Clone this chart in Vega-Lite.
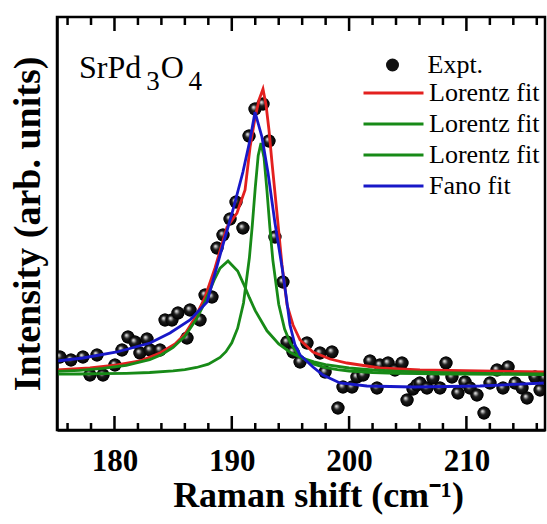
{
  "$schema": "https://vega.github.io/schema/vega-lite/v6.json",
  "width": 488,
  "height": 413,
  "autosize": {"type": "none"},
  "padding": {"left": 57, "top": 17, "right": 2, "bottom": 94},
  "background": "white",
  "config": {
    "font": "Liberation Serif",
    "view": {"stroke": null},
    "axis": {"domainColor": "black", "domainWidth": 2.5, "grid": false}
  },
  "datasets": {
    "single": [{}],
    "majorTicks": [{"position": 180}, {"position": 190}, {"position": 200}, {"position": 210}],
    "minorTicks": [
      {"position": 176}, {"position": 178}, {"position": 182}, {"position": 184}, {"position": 186},
      {"position": 188}, {"position": 192}, {"position": 194}, {"position": 196}, {"position": 198},
      {"position": 202}, {"position": 204}, {"position": 206}, {"position": 208}, {"position": 212},
      {"position": 214}, {"position": 216}
    ],
    "expt": [
      {"shift": 175.35, "intensity": 73}, {"shift": 176.29, "intensity": 70}, {"shift": 177.31, "intensity": 73},
      {"shift": 178.51, "intensity": 75}, {"shift": 177.91, "intensity": 55}, {"shift": 179.02, "intensity": 55},
      {"shift": 180.04, "intensity": 65}, {"shift": 180.64, "intensity": 80}, {"shift": 181.15, "intensity": 93},
      {"shift": 181.75, "intensity": 88}, {"shift": 182.77, "intensity": 91}, {"shift": 182.17, "intensity": 77},
      {"shift": 183.03, "intensity": 80}, {"shift": 183.88, "intensity": 80}, {"shift": 184.31, "intensity": 110},
      {"shift": 184.90, "intensity": 110}, {"shift": 185.41, "intensity": 117}, {"shift": 186.44, "intensity": 120},
      {"shift": 187.29, "intensity": 110}, {"shift": 186.18, "intensity": 92}, {"shift": 187.72, "intensity": 135},
      {"shift": 188.31, "intensity": 133}, {"shift": 188.74, "intensity": 182}, {"shift": 189.25, "intensity": 195},
      {"shift": 189.85, "intensity": 211}, {"shift": 190.36, "intensity": 228}, {"shift": 190.95, "intensity": 202},
      {"shift": 191.47, "intensity": 294}, {"shift": 191.98, "intensity": 321}, {"shift": 192.66, "intensity": 326},
      {"shift": 193.17, "intensity": 289}, {"shift": 193.68, "intensity": 193}, {"shift": 194.36, "intensity": 148},
      {"shift": 194.71, "intensity": 88}, {"shift": 195.22, "intensity": 78}, {"shift": 195.82, "intensity": 68},
      {"shift": 196.41, "intensity": 87}, {"shift": 197.52, "intensity": 77}, {"shift": 198.54, "intensity": 78},
      {"shift": 197.95, "intensity": 58}, {"shift": 199.05, "intensity": 22}, {"shift": 199.48, "intensity": 43},
      {"shift": 200.25, "intensity": 43}, {"shift": 200.67, "intensity": 53}, {"shift": 201.19, "intensity": 55},
      {"shift": 201.78, "intensity": 69}, {"shift": 202.38, "intensity": 42}, {"shift": 202.63, "intensity": 65},
      {"shift": 203.32, "intensity": 67}, {"shift": 203.91, "intensity": 60}, {"shift": 204.51, "intensity": 67},
      {"shift": 204.94, "intensity": 30}, {"shift": 205.45, "intensity": 41}, {"shift": 205.79, "intensity": 45},
      {"shift": 206.04, "intensity": 47}, {"shift": 206.64, "intensity": 42}, {"shift": 207.15, "intensity": 52},
      {"shift": 207.75, "intensity": 42}, {"shift": 208.26, "intensity": 67}, {"shift": 208.77, "intensity": 53},
      {"shift": 209.28, "intensity": 37}, {"shift": 209.88, "intensity": 48}, {"shift": 210.31, "intensity": 42},
      {"shift": 210.90, "intensity": 35}, {"shift": 211.50, "intensity": 17}, {"shift": 212.01, "intensity": 47},
      {"shift": 212.61, "intensity": 60}, {"shift": 213.12, "intensity": 42}, {"shift": 213.55, "intensity": 63},
      {"shift": 214.15, "intensity": 47}, {"shift": 214.74, "intensity": 42}, {"shift": 215.17, "intensity": 32},
      {"shift": 215.85, "intensity": 53}, {"shift": 216.28, "intensity": 40}, {"shift": 216.70, "intensity": 52}
    ],
    "lorentz": [
      {"shift": 175.1, "intensity": 60}, {"shift": 177.91, "intensity": 62}, {"shift": 180.21, "intensity": 65},
      {"shift": 182.17, "intensity": 69}, {"shift": 183.88, "intensity": 77}, {"shift": 185.16, "intensity": 86},
      {"shift": 186.01, "intensity": 96}, {"shift": 186.86, "intensity": 112}, {"shift": 187.72, "intensity": 133},
      {"shift": 188.57, "intensity": 162}, {"shift": 189.59, "intensity": 203}, {"shift": 190.44, "intensity": 217},
      {"shift": 191.13, "intensity": 240}, {"shift": 191.56, "intensity": 283}, {"shift": 191.98, "intensity": 312},
      {"shift": 192.32, "intensity": 330}, {"shift": 192.66, "intensity": 341}, {"shift": 192.92, "intensity": 325},
      {"shift": 193.17, "intensity": 300}, {"shift": 193.43, "intensity": 267}, {"shift": 193.85, "intensity": 217},
      {"shift": 194.28, "intensity": 165}, {"shift": 194.71, "intensity": 125}, {"shift": 195.22, "intensity": 105},
      {"shift": 195.82, "intensity": 90}, {"shift": 196.92, "intensity": 78}, {"shift": 198.37, "intensity": 71},
      {"shift": 199.82, "intensity": 67}, {"shift": 202.63, "intensity": 62}, {"shift": 206.04, "intensity": 60},
      {"shift": 211.16, "intensity": 59}, {"shift": 216.7, "intensity": 58}
    ],
    "lorentzBroad": [
      {"shift": 175.1, "intensity": 58.6}, {"shift": 177, "intensity": 59.7}, {"shift": 179, "intensity": 61.6},
      {"shift": 181, "intensity": 64.7}, {"shift": 183, "intensity": 70.4}, {"shift": 184, "intensity": 75.2},
      {"shift": 185, "intensity": 82.5}, {"shift": 186, "intensity": 93.7}, {"shift": 187, "intensity": 111.2},
      {"shift": 187.5, "intensity": 122.8}, {"shift": 188, "intensity": 136.1}, {"shift": 188.5, "intensity": 150.0},
      {"shift": 189, "intensity": 161.9}, {"shift": 189.68, "intensity": 169}, {"shift": 190.5, "intensity": 159.0},
      {"shift": 191, "intensity": 146.2}, {"shift": 191.5, "intensity": 132.3}, {"shift": 192, "intensity": 119.3},
      {"shift": 193, "intensity": 99.2}, {"shift": 194, "intensity": 86.0}, {"shift": 195, "intensity": 77.5},
      {"shift": 196, "intensity": 71.9}, {"shift": 197, "intensity": 68.1}, {"shift": 198, "intensity": 65.4},
      {"shift": 200, "intensity": 62.0}, {"shift": 202, "intensity": 60.0}, {"shift": 204, "intensity": 58.8},
      {"shift": 207, "intensity": 57.6}, {"shift": 210, "intensity": 56.9}, {"shift": 213, "intensity": 56.4},
      {"shift": 216.7, "intensity": 56.1}
    ],
    "lorentzNarrow": [
      {"shift": 175.1, "intensity": 55.8}, {"shift": 177, "intensity": 56.0}, {"shift": 179, "intensity": 56.3},
      {"shift": 181, "intensity": 56.7}, {"shift": 183, "intensity": 57.5}, {"shift": 185, "intensity": 59.1},
      {"shift": 186, "intensity": 60.4}, {"shift": 187, "intensity": 62.5}, {"shift": 188, "intensity": 65.9},
      {"shift": 189, "intensity": 72.6}, {"shift": 189.5, "intensity": 78.3}, {"shift": 190, "intensity": 87.2},
      {"shift": 190.5, "intensity": 101.8}, {"shift": 191, "intensity": 127.0}, {"shift": 191.5, "intensity": 172.2},
      {"shift": 191.75, "intensity": 204.9}, {"shift": 192, "intensity": 242.1}, {"shift": 192.25, "intensity": 274.4},
      {"shift": 192.49, "intensity": 287}, {"shift": 192.75, "intensity": 272.3}, {"shift": 193, "intensity": 239.1},
      {"shift": 193.25, "intensity": 202.0}, {"shift": 193.5, "intensity": 169.9}, {"shift": 194, "intensity": 125.7},
      {"shift": 194.5, "intensity": 101.0}, {"shift": 195, "intensity": 86.8}, {"shift": 195.5, "intensity": 78.1},
      {"shift": 196, "intensity": 72.4}, {"shift": 197, "intensity": 65.9}, {"shift": 198, "intensity": 62.4},
      {"shift": 199, "intensity": 60.3}, {"shift": 200, "intensity": 59.0}, {"shift": 202, "intensity": 57.5},
      {"shift": 204, "intensity": 56.7}, {"shift": 206, "intensity": 56.3}, {"shift": 208, "intensity": 56.0},
      {"shift": 210, "intensity": 55.8}, {"shift": 213, "intensity": 55.6}, {"shift": 216.7, "intensity": 55.4}
    ],
    "fano": [
      {"shift": 175.1, "intensity": 69}, {"shift": 177.31, "intensity": 72}, {"shift": 180.21, "intensity": 78},
      {"shift": 183.03, "intensity": 87}, {"shift": 184.73, "intensity": 97}, {"shift": 186.44, "intensity": 110},
      {"shift": 187.89, "intensity": 128}, {"shift": 189.17, "intensity": 182}, {"shift": 190.10, "intensity": 220},
      {"shift": 190.95, "intensity": 258}, {"shift": 191.55, "intensity": 290}, {"shift": 191.98, "intensity": 318},
      {"shift": 192.57, "intensity": 293}, {"shift": 193.09, "intensity": 257}, {"shift": 193.68, "intensity": 207},
      {"shift": 194.28, "intensity": 163}, {"shift": 194.62, "intensity": 135}, {"shift": 194.96, "intensity": 105},
      {"shift": 195.39, "intensity": 85}, {"shift": 195.82, "intensity": 75}, {"shift": 196.92, "intensity": 63},
      {"shift": 197.77, "intensity": 55}, {"shift": 199.22, "intensity": 47}, {"shift": 201.52, "intensity": 44},
      {"shift": 205.45, "intensity": 43}, {"shift": 211.16, "intensity": 44}, {"shift": 216.7, "intensity": 47}
    ]
  },
  "layer": [
    {
      "data": {"name": "expt"},
      "mark": {"type": "point", "filled": true, "size": 169, "strokeWidth": 0, "opacity": 1, "color": "#111111", "clip": true},
      "encoding": {
        "x": {
          "field": "shift", "type": "quantitative",
          "scale": {"domain": [175.1, 216.7], "nice": false, "zero": false},
          "axis": {
            "orient": "bottom", "domain": true, "ticks": false,
            "values": [180, 190, 200, 210], "format": "d",
            "labelFont": "Liberation Serif", "labelFontWeight": "bold", "labelFontSize": 31, "labelColor": "black",
            "labelPadding": 16, "labelFlush": false, "labelOverlap": false, "labelBound": false,
            "title": "Raman shift (cm⁻¹)",
            "titleFont": "Liberation Serif", "titleFontWeight": "bold", "titleFontSize": 36, "titleColor": "black",
            "titleX": 261, "titleY": 76, "titleBaseline": "alphabetic", "titleAlign": "center"
          }
        },
        "y": {
          "field": "intensity", "type": "quantitative",
          "scale": {"domain": [0, 413], "nice": false, "zero": false},
          "axis": {
            "orient": "left", "domain": true, "ticks": false, "labels": false,
            "title": "Intensity (arb. units)",
            "titleFont": "Liberation Serif", "titleFontWeight": "bold", "titleFontSize": 38, "titleColor": "black",
            "titleX": -18, "titleBaseline": "alphabetic"
          }
        },
        "shape": {
          "datum": "Expt.",
          "scale": {"domain": ["Expt."], "range": ["circle"]},
          "legend": {
            "orient": "none", "legendX": 322.5, "legendY": 32.5, "title": null,
            "padding": 0, "rowPadding": 0, "clipHeight": 31,
            "symbolSize": 169, "symbolFillColor": "#111111", "symbolStrokeColor": "#111111", "symbolStrokeWidth": 0,
            "labelFont": "Liberation Serif", "labelFontSize": 26, "labelColor": "black",
            "labelOffset": 22, "labelLimit": 400
          }
        }
      }
    },
    {
      "data": {"name": "expt"},
      "mark": {
        "type": "point", "filled": true, "size": 169, "strokeWidth": 0, "opacity": 1, "clip": true,
        "fill": {
          "gradient": "radial", "x1": 0.36, "y1": 0.34, "r1": 0, "x2": 0.5, "y2": 0.5, "r2": 0.5,
          "stops": [
            {"offset": 0, "color": "#ffffff"},
            {"offset": 0.18, "color": "#b0b0b0"},
            {"offset": 0.45, "color": "#1e1e1e"},
            {"offset": 1, "color": "#000000"}
          ]
        }
      },
      "encoding": {
        "x": {"field": "shift", "type": "quantitative", "axis": null},
        "y": {"field": "intensity", "type": "quantitative", "axis": null}
      }
    },
    {
      "data": {"name": "lorentz"},
      "mark": {"type": "line", "strokeWidth": 2.8, "clip": true},
      "encoding": {
        "x": {"field": "shift", "type": "quantitative", "axis": null},
        "y": {"field": "intensity", "type": "quantitative", "axis": null},
        "color": {
          "datum": "Lorentz fit (sum)",
          "scale": {
            "domain": ["Lorentz fit (sum)", "Lorentz fit (1)", "Lorentz fit (2)", "Fano fit"],
            "range": ["#e3201f", "#178a17", "#178a17", "#1818c8"]
          },
          "legend": {
            "orient": "none", "legendX": 305, "legendY": 60.5, "title": null,
            "padding": 0, "rowPadding": 0, "clipHeight": 31,
            "symbolType": "stroke", "symbolSize": 3600, "symbolStrokeWidth": 3,
            "labelFont": "Liberation Serif", "labelFontSize": 26, "labelColor": "black",
            "labelOffset": 4, "labelLimit": 400,
            "labelExpr": "indexof(datum.label, 'Lorentz') === 0 ? 'Lorentz fit' : datum.label"
          }
        }
      }
    },
    {
      "data": {"name": "lorentzBroad"},
      "mark": {"type": "line", "strokeWidth": 2.8, "clip": true},
      "encoding": {
        "x": {"field": "shift", "type": "quantitative", "axis": null},
        "y": {"field": "intensity", "type": "quantitative", "axis": null},
        "color": {"datum": "Lorentz fit (1)"}
      }
    },
    {
      "data": {"name": "lorentzNarrow"},
      "mark": {"type": "line", "strokeWidth": 2.8, "clip": true},
      "encoding": {
        "x": {"field": "shift", "type": "quantitative", "axis": null},
        "y": {"field": "intensity", "type": "quantitative", "axis": null},
        "color": {"datum": "Lorentz fit (2)"}
      }
    },
    {
      "data": {"name": "fano"},
      "mark": {"type": "line", "strokeWidth": 2.8, "clip": true},
      "encoding": {
        "x": {"field": "shift", "type": "quantitative", "axis": null},
        "y": {"field": "intensity", "type": "quantitative", "axis": null},
        "color": {"datum": "Fano fit"}
      }
    },
    {
      "data": {"name": "single"},
      "mark": {"type": "rect", "fill": null, "fillOpacity": 0, "stroke": "black", "strokeWidth": 2.5},
      "encoding": {
        "x": {"datum": 175.1, "type": "quantitative", "axis": null},
        "x2": {"datum": 216.7},
        "y": {"datum": 0, "type": "quantitative", "axis": null},
        "y2": {"datum": 413}
      }
    },
    {
      "data": {"name": "majorTicks"},
      "mark": {"type": "rect", "fill": null, "fillOpacity": 0, "stroke": "black", "strokeWidth": 2.5},
      "encoding": {
        "x": {"field": "position", "type": "quantitative", "axis": null},
        "x2": {"field": "position"},
        "y": {"datum": 0, "type": "quantitative", "axis": null},
        "y2": {"datum": 14}
      }
    },
    {
      "data": {"name": "minorTicks"},
      "mark": {"type": "rect", "fill": null, "fillOpacity": 0, "stroke": "black", "strokeWidth": 2.5},
      "encoding": {
        "x": {"field": "position", "type": "quantitative", "axis": null},
        "x2": {"field": "position"},
        "y": {"datum": 0, "type": "quantitative", "axis": null},
        "y2": {"datum": 7}
      }
    },
    {
      "data": {"name": "majorTicks"},
      "mark": {"type": "rect", "fill": null, "fillOpacity": 0, "stroke": "black", "strokeWidth": 2.5},
      "encoding": {
        "x": {"field": "position", "type": "quantitative", "axis": null},
        "x2": {"field": "position"},
        "y": {"datum": 399, "type": "quantitative", "axis": null},
        "y2": {"datum": 413}
      }
    },
    {
      "data": {"name": "minorTicks"},
      "mark": {"type": "rect", "fill": null, "fillOpacity": 0, "stroke": "black", "strokeWidth": 2.5},
      "encoding": {
        "x": {"field": "position", "type": "quantitative", "axis": null},
        "x2": {"field": "position"},
        "y": {"datum": 405, "type": "quantitative", "axis": null},
        "y2": {"datum": 413}
      }
    },
    {
      "data": {"name": "single"},
      "mark": {"type": "text", "text": "SrPd", "align": "left", "baseline": "alphabetic", "font": "Liberation Serif", "fontSize": 32, "color": "black"},
      "encoding": {
        "x": {"datum": 176.97, "type": "quantitative", "axis": null},
        "y": {"datum": 352, "type": "quantitative", "axis": null}
      }
    },
    {
      "data": {"name": "single"},
      "mark": {"type": "text", "text": "3", "align": "left", "baseline": "alphabetic", "font": "Liberation Serif", "fontSize": 27, "color": "black"},
      "encoding": {
        "x": {"datum": 182.7, "type": "quantitative", "axis": null},
        "y": {"datum": 340, "type": "quantitative", "axis": null}
      }
    },
    {
      "data": {"name": "single"},
      "mark": {"type": "text", "text": "O", "align": "left", "baseline": "alphabetic", "font": "Liberation Serif", "fontSize": 32, "color": "black"},
      "encoding": {
        "x": {"datum": 183.95, "type": "quantitative", "axis": null},
        "y": {"datum": 352, "type": "quantitative", "axis": null}
      }
    },
    {
      "data": {"name": "single"},
      "mark": {"type": "text", "text": "4", "align": "left", "baseline": "alphabetic", "font": "Liberation Serif", "fontSize": 27, "color": "black"},
      "encoding": {
        "x": {"datum": 186.3, "type": "quantitative", "axis": null},
        "y": {"datum": 340, "type": "quantitative", "axis": null}
      }
    }
  ],
  "resolve": {"axis": {"x": "independent", "y": "independent"}}
}
